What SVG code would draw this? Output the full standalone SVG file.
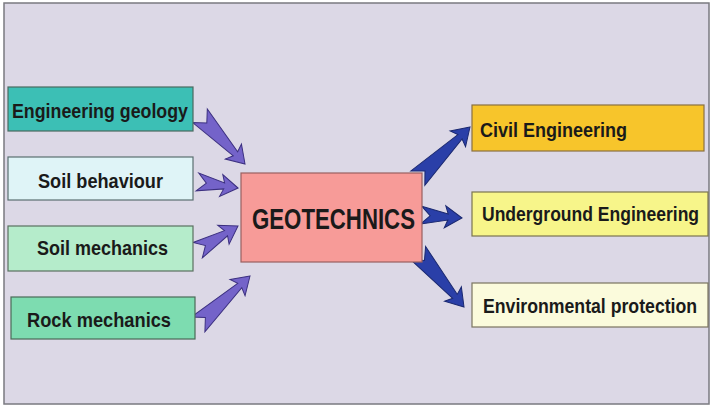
<svg xmlns="http://www.w3.org/2000/svg" width="715" height="409" viewBox="0 0 715 409">
<style>
.box{stroke-width:1.2}
.t{font-family:"Liberation Sans",Arial,sans-serif;font-weight:bold;font-size:21px;fill:#1a1a1a}
.big{font-size:29px}
.pa{fill:#7463c9;stroke:#3c3080;stroke-width:1}
.ba{fill:#2a3fa8;stroke:#1a2870;stroke-width:1}
</style>
<rect x="4" y="3" width="705" height="401" fill="#dcd8e6" stroke="#7a7a80" stroke-width="1.5"/>
<g id="connectors">
<path class="pa" d="M0,0 L-17,-11 L-14,-3 L-66,-10 L-56,0 L-66,10 L-14,3 L-17,11 Z" transform="translate(245,164) rotate(47)"/>
<path class="pa" d="M0,0 L-17,-11 L-14,-3 L-41,-9 L-32,0 L-41,9 L-14,3 L-17,11 Z" transform="translate(238,188) rotate(8.5)"/>
<path class="pa" d="M0,0 L-17,-11 L-14,-3 L-47,-9 L-38,0 L-47,9 L-14,3 L-17,11 Z" transform="translate(238,226) rotate(-31)"/>
<path class="pa" d="M0,0 L-17,-11 L-14,-3 L-71,-10 L-61,0 L-71,10 L-14,3 L-17,11 Z" transform="translate(250,276) rotate(-43)"/>
<path class="ba" d="M0,0 L-17,-11 L-14,-3 L-73,-10 L-63,0 L-73,10 L-14,3 L-17,11 Z" transform="translate(470,127) rotate(-44.4)"/>
<path class="ba" d="M0,0 L-17,-11 L-14,-3 L-41,-9 L-32,0 L-41,9 L-14,3 L-17,11 Z" transform="translate(462,218) rotate(4)"/>
<path class="ba" d="M0,0 L-17,-11 L-14,-3 L-71,-10 L-61,0 L-71,10 L-14,3 L-17,11 Z" transform="translate(464,307) rotate(49.6)"/>
</g>
<g id="engineering-geology">
<rect class="box" x="8" y="87" width="185" height="44" fill="#3cbfb5" stroke="#4a6a60"/>
<text class="t" x="12" y="118" textLength="176" lengthAdjust="spacingAndGlyphs">Engineering geology</text>
</g>
<g id="soil-behaviour">
<rect class="box" x="8" y="157" width="185" height="43" fill="#dff4f7" stroke="#5a6e70"/>
<text class="t" x="38" y="188" textLength="125" lengthAdjust="spacingAndGlyphs">Soil behaviour</text>
</g>
<g id="soil-mechanics">
<rect class="box" x="8" y="226" width="185" height="45" fill="#b5eccb" stroke="#5a7060"/>
<text class="t" x="37" y="255" textLength="131" lengthAdjust="spacingAndGlyphs">Soil mechanics</text>
</g>
<g id="rock-mechanics">
<rect class="box" x="11" y="297" width="184" height="42" fill="#7ddcb0" stroke="#4a6a58"/>
<text class="t" x="27" y="327" textLength="144" lengthAdjust="spacingAndGlyphs">Rock mechanics</text>
</g>
<g id="geotechnics">
<rect class="box" x="241" y="173" width="181" height="89" fill="#f79b98" stroke="#9a6060"/>
<text class="t big" x="252" y="229" textLength="163" lengthAdjust="spacingAndGlyphs">GEOTECHNICS</text>
</g>
<g id="civil-engineering">
<rect class="box" x="472" y="105" width="232" height="46" fill="#f7c52b" stroke="#8a7040"/>
<text class="t" x="480" y="137" textLength="147" lengthAdjust="spacingAndGlyphs">Civil Engineering</text>
</g>
<g id="underground-engineering">
<rect class="box" x="472" y="192" width="236" height="44" fill="#f7f58a" stroke="#7a7450"/>
<text class="t" transform="translate(482,221) scale(0.835,1)" x="0" y="0">Underground Engineering</text>
</g>
<g id="environmental-protection">
<rect class="box" x="472" y="283" width="236" height="44" fill="#fbfbdc" stroke="#7a7460"/>
<text class="t" transform="translate(483,313) scale(0.842,1)" x="0" y="0">Environmental protection</text>
</g>
</svg>
